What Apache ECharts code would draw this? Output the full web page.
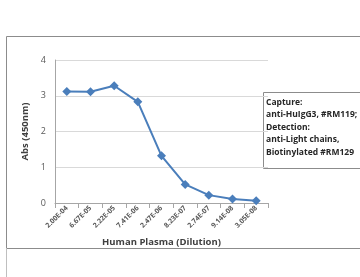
<!DOCTYPE html>
<html>
<head>
<meta charset="utf-8">
<script src="https://cdn.jsdelivr.net/npm/echarts@6/dist/echarts.min.js"></script>
<style>
  html, body { margin: 0; padding: 0; background: #fff; }
  #chart { width: 360px; height: 277px; }
</style>
</head>
<body>
<div id="chart"></div>
<script>
// dilutions on the x axis
const dilutions = [
  "2.00E-04", "6.67E-05", "2.22E-05", "7.41E-06", "2.47E-06",
  "8.23E-07", "2.74E-07", "9.14E-08", "3.05E-08",
];
// absorbance at 450nm
const absValues = [3.12, 3.11, 3.28, 2.83, 1.32, 0.52, 0.22, 0.11, 0.06];
const yTicks = [0, 1, 2, 3, 4];
const noteLines = [
  "Capture:",
  "anti-HuIgG3, #RM119;",
  "Detection:",
  "anti-Light chains,",
  "Biotinylated #RM129",
];

const LINE_COLOR = "#4a7ebb";
const chart = echarts.init(document.getElementById("chart"), null, { renderer: "canvas" });

chart.setOption({
  backgroundColor: "#fff",
  animation: false,
  grid: { left: 55, right: 92, top: 60, bottom: 74 },
  xAxis: {
    type: "category",
    data: dilutions,
    name: "Human Plasma (Dilution)",
    nameLocation: "middle",
    nameGap: 34,
    nameTextStyle: { fontFamily: "Open Sans", fontWeight: "bold", fontSize: 9.5, color: "#404040" },
    axisLine: { lineStyle: { color: "#a6a6a6" } },
    axisTick: { show: true, alignWithLabel: false, lineStyle: { color: "#a6a6a6" } },
    axisLabel: {
      rotate: 45, interval: 0, fontSize: 7, fontFamily: "Open Sans",
      color: "#595959", fontWeight: "bold", margin: 4,
    },
  },
  yAxis: {
    type: "value",
    min: yTicks[0],
    max: yTicks[yTicks.length - 1],
    interval: 1,
    name: "Abs (450nm)",
    nameLocation: "middle",
    nameGap: 17,
    nameTextStyle: { fontFamily: "Open Sans", fontWeight: "bold", fontSize: 9.5, color: "#404040" },
    axisLine: { show: true, lineStyle: { color: "#a6a6a6" } },
    axisTick: { show: false },
    axisLabel: { fontSize: 9, fontFamily: "Open Sans", color: "#595959", margin: 9 },
    splitLine: { lineStyle: { color: "#d9d9d9", width: 1 } },
  },
  series: [{
    type: "line",
    data: absValues,
    symbol: "diamond",
    symbolSize: 9,
    lineStyle: { color: LINE_COLOR, width: 2 },
    itemStyle: { color: LINE_COLOR },
  }],
  graphic: [
    {
      type: "rect",
      shape: { x: 6.5, y: 36.5, width: 360, height: 212 },
      style: { fill: "none", stroke: "#8c8c8c", lineWidth: 1 },
      silent: true,
    },
    {
      type: "line",
      shape: { x1: 6.5, y1: 248, x2: 6.5, y2: 277 },
      style: { stroke: "#bfbfbf", lineWidth: 1 },
      silent: true,
    },
    {
      type: "rect",
      shape: { x: 263.5, y: 92.5, width: 100, height: 76 },
      style: { fill: "#fff", stroke: "#8c8c8c", lineWidth: 1 },
      silent: true,
    },
    {
      type: "text",
      left: 266,
      top: 96,
      style: {
        text: noteLines.join("\n"),
        fontFamily: "Open Sans",
        fontWeight: "bold",
        fontSize: 8.5,
        lineHeight: 12.5,
        fill: "#262626",
      },
      silent: true,
    },
  ],
});
</script>
</body>
</html>
